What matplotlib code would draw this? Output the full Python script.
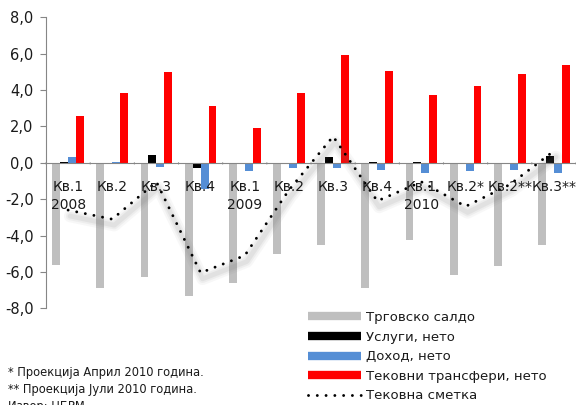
import matplotlib
matplotlib.use("Agg")
import matplotlib.pyplot as plt
import matplotlib.transforms as mtransforms
from matplotlib.lines import Line2D
import numpy as np

quarters = ["Кв.1\n2008", "Кв.2", "Кв.3", "Кв.4", "Кв.1\n2009", "Кв.2", "Кв.3",
            "Кв.4", "Кв.1\n2010", "Кв.2*", "Кв.2**", "Кв.3**"]

trade_balance = [-5.6, -6.9, -6.3, -7.3, -6.6, -5.0, -4.5, -6.9, -4.25, -6.15, -5.65, -4.5]
services_net = [0.02, -0.05, 0.45, -0.3, -0.05, -0.05, 0.3, 0.05, 0.05, -0.05, -0.05, 0.4]
income_net = [0.3, 0.02, -0.25, -1.45, -0.45, -0.3, -0.3, -0.38, -0.57, -0.45, -0.38, -0.57]
transfers_net = [2.6, 3.85, 5.0, 3.1, 1.9, 3.85, 5.9, 5.05, 3.7, 4.2, 4.9, 5.4]
current_account = [-2.6, -3.1, -1.05, -6.05, -5.1, -1.5, 1.45, -2.1, -1.05, -2.4, -1.2, 0.65]

series_names = ["Трговско салдо", "Услуги, нето", "Доход, нето", "Тековни трансфери, нето"]
line_name = "Тековна сметка"
footnotes = ["* Проекција Април 2010 година.", "** Проекција Јули 2010 година.", "Извор: НБРМ"]

colors = ["#BFBFBF", "#000000", "#558ED5", "#FF0000"]
axis_gray = "#868686"
text_color = "#1a1a1a"

fig = plt.figure(figsize=(5.76, 4.05), dpi=100)
ax = fig.add_axes([0.0799, 0.2388, 0.9201, 0.7185])

x = np.arange(len(quarters))
bw = 0.18
for i, (vals, c) in enumerate(zip([trade_balance, services_net, income_net, transfers_net], colors)):
    ax.bar(x + (i - 1.5) * bw, vals, width=bw, color=c, zorder=2)

# soft shadow beneath the current-account line
for lw, a in [(9, 0.05), (6, 0.07), (3.5, 0.09)]:
    sh = mtransforms.offset_copy(ax.transData, fig=fig, x=2, y=-6, units="dots")
    ax.plot(x, current_account, color="#707070", lw=lw, alpha=a,
            solid_capstyle="round", transform=sh, zorder=3)
ax.plot(x, current_account, color="black", lw=2.1, linestyle=(0, (0.01, 3.0)),
        dash_capstyle="round", zorder=4)

ax.set_xlim(-0.5, len(quarters) - 0.5)
ax.set_ylim(-8, 8)
yt = np.arange(-8, 9, 2)
ax.set_yticks(yt)
ax.set_yticklabels([f"{v:.1f}".replace(".", ",") for v in yt], fontsize=10.5, color=text_color)
ax.tick_params(axis="y", direction="out", length=4, color=axis_gray, width=0.8, pad=5)
ax.set_xticks([])

for s in ["top", "right", "bottom"]:
    ax.spines[s].set_visible(False)
ax.spines["left"].set_color(axis_gray)
ax.spines["left"].set_linewidth(0.8)

# zero line with category boundary ticks
ax.axhline(0, color=axis_gray, lw=0.8, zorder=5)
for b in np.arange(-0.5, len(quarters) + 0.5, 1.0):
    ax.annotate("", xy=(b, 0), xytext=(0, -4), textcoords="offset pixels",
                arrowprops=dict(arrowstyle="-", color=axis_gray, lw=0.8), zorder=5)

for xi, lab in zip(x, quarters):
    ax.text(xi, -0.95, lab, ha="center", va="top", fontsize=10, color=text_color,
            linespacing=1.35, zorder=6)

handles = [Line2D([0], [0], color=c, lw=6, solid_capstyle="butt") for c in colors]
handles.append(Line2D([0], [0], color="black", lw=2.1, linestyle=(0, (0.01, 3.0)),
                      dash_capstyle="round"))
leg = fig.legend(handles, series_names + [line_name], loc="upper left",
                 bbox_to_anchor=(0.535, 0.232), frameon=False, fontsize=9.5,
                 handlelength=4.0, handletextpad=0.4, labelspacing=0.5,
                 borderaxespad=0, borderpad=0)
for t in leg.get_texts():
    t.set_color(text_color)

for i, note in enumerate(footnotes):
    fig.text(0.014, 0.081 - i * 0.042, note, fontsize=8.3, color=text_color, va="center")

fig.savefig("out.png", dpi=100)
